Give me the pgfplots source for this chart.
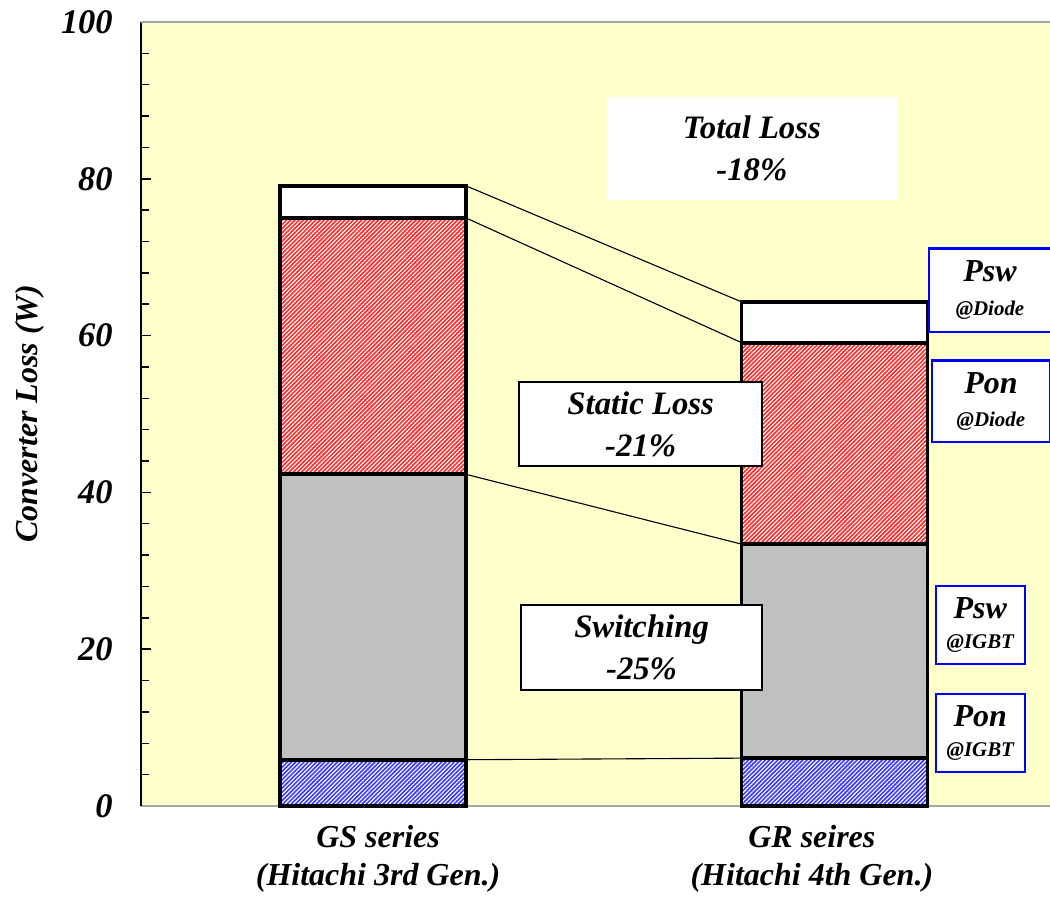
\documentclass[border=0pt]{standalone}
\usepackage{pgfplots}
\pgfplotsset{compat=1.18}
\usepackage{pgfplotstable}
\usetikzlibrary{patterns.meta}
\usepackage{fontspec}
\setmainfont{Liberation Serif}

\definecolor{panelbg}{HTML}{FFFFCC}
\definecolor{igbtsw}{HTML}{C0C0C0}
\definecolor{diodered}{HTML}{FF2A2A}
\definecolor{igbtblue}{HTML}{3A3AFF}
\definecolor{boxblue}{HTML}{0000FF}

\tikzset{
  plainbox/.style={fill=white, draw=none, align=center, inner sep=0pt,
    font=\bfseries\itshape\fontsize{13.3}{17}\selectfont},
  blackbox/.style={plainbox, draw=black, line width=0.8pt},
  bluebox/.style={fill=white, draw=boxblue, line width=0.9pt, align=center, inner sep=0pt,
    font=\bfseries\itshape},
}

% cumulative tops of the stacked loss components (W)
\pgfplotstableread{
x  pswD  ponD  pswI  ponI
0  79.1  75.0  42.3  5.9
1  64.3  59.1  33.4  6.1
}\losses

\begin{document}
\begin{tikzpicture}
\useasboundingbox (-2.014cm,-1.3cm) rectangle (12.986cm,11.514cm);
\begin{axis}[
  at={(0,0)}, anchor=south west,
  scale only axis, width=12.986cm, height=11.2cm,
  xmin=-0.5027, xmax=1.467, ymin=0, ymax=100,
  clip=false,
  axis background/.style={fill=panelbg},
  axis x line*=bottom, axis y line*=left,
  x axis line style={draw=gray!70, line width=0.8pt},
  y axis line style={draw=black, line width=0.8pt},
  ytick={0,20,...,100}, minor y tick num=4,
  tick align=inside,
  major tick length=0.15cm, minor tick length=0.12cm,
  tick style={black, line width=0.6pt},
  xtick={0.011,0.951},
  xticklabels={GS series\\(Hitachi 3rd Gen.), GR seires\\(Hitachi 4th Gen.)},
  xtick style={draw=none},
  xticklabel style={align=center, font=\bfseries\itshape\fontsize{13}{15.4}\selectfont, yshift=-0.15cm},
  /pgf/number format/assume math mode=true,
  yticklabel style={font=\bfseries\itshape\fontsize{14}{16}\selectfont, xshift=-0.28cm},
  ylabel={Converter Loss (W)},
  ylabel style={at={(axis description cs:-0.122,0.5)}, anchor=center,
    font=\bfseries\itshape\fontsize{13}{16}\selectfont},
  segment/.style={ybar, bar width=0.403, bar shift=0pt, draw=black, line width=1.6pt},
  leader/.style={black, line width=0.45pt, no marks},
]
% diode switching loss (top, white)
\addplot[segment, fill=white] table[x=x, y=pswD] {\losses};
% diode conduction loss (red hatched)
\addplot[segment, preaction={fill=diodered},
  pattern={Lines[angle=45, distance=1.2pt, line width=0.45pt]}, pattern color=white]
  table[x=x, y=ponD] {\losses};
% IGBT switching loss (gray)
\addplot[segment, fill=igbtsw] table[x=x, y=pswI] {\losses};
% IGBT conduction loss (blue hatched)
\addplot[segment, preaction={fill=igbtblue},
  pattern={Lines[angle=45, distance=1.2pt, line width=0.45pt]}, pattern color=white]
  table[x=x, y=ponI] {\losses};

% leader lines between the segment boundaries of both bars
\addplot[leader] coordinates {(0.2015,79.1) (0.7985,64.3)};
\addplot[leader] coordinates {(0.2015,75.0) (0.7985,59.1)};
\addplot[leader] coordinates {(0.2015,42.3) (0.7985,33.4)};
\addplot[leader] coordinates {(0.2015,5.9) (0.7985,6.1)};

\draw[gray!70, line width=0.8pt] (rel axis cs:0,1) -- (rel axis cs:1,1);

\node[plainbox, minimum width=4.14cm, minimum height=1.47cm] at (axis cs:0.821,83.9) {Total Loss\\-18\%};
\node[blackbox, minimum width=3.47cm, minimum height=1.2cm] at (axis cs:0.580,48.7) {Static Loss\\-21\%};
\node[blackbox, minimum width=3.44cm, minimum height=1.21cm] at (axis cs:0.582,20.2) {Switching\\-25\%};

\node[bluebox, minimum width=1.74cm, minimum height=1.19cm] at (axis cs:1.337,65.8)
  {{\fontsize{13}{15}\selectfont Psw}\\[1.5pt]{\fontsize{8.5}{10}\selectfont @Diode}};
\node[bluebox, minimum width=1.69cm, minimum height=1.17cm] at (axis cs:1.339,51.6)
  {{\fontsize{13}{15}\selectfont Pon}\\[1.5pt]{\fontsize{8.5}{10}\selectfont @Diode}};
\node[bluebox, minimum width=1.27cm, minimum height=1.11cm] at (axis cs:1.316,23.1)
  {{\fontsize{13}{15}\selectfont Psw}\\[0pt]{\fontsize{8.5}{10}\selectfont @IGBT}};
\node[bluebox, minimum width=1.27cm, minimum height=1.11cm] at (axis cs:1.316,9.3)
  {{\fontsize{13}{15}\selectfont Pon}\\[0pt]{\fontsize{8.5}{10}\selectfont @IGBT}};
\end{axis}
\end{tikzpicture}
\end{document}
